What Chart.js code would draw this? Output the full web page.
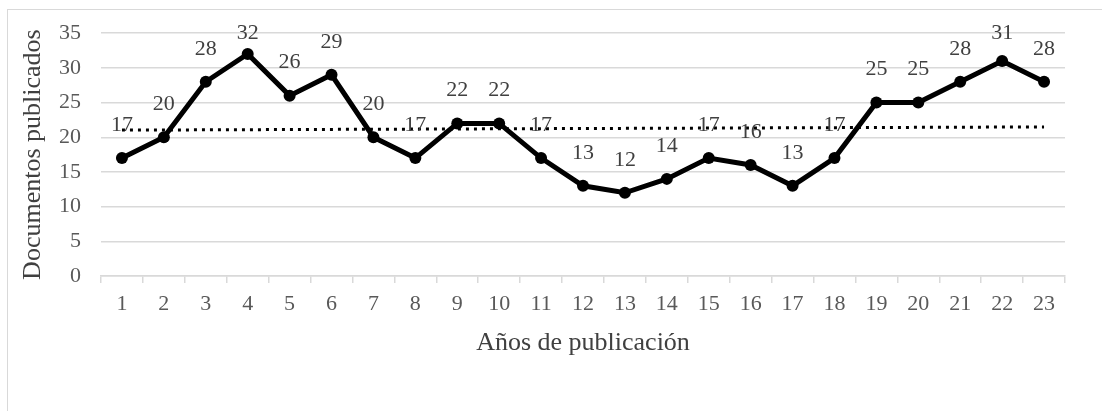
<!DOCTYPE html>
<html>
<head>
<meta charset="utf-8">
<script src="https://cdn.jsdelivr.net/npm/chart.js@4.4.0/dist/chart.umd.min.js"></script>
<style>
    html, body { margin: 0; padding: 0; background: #fff; overflow: hidden; }
    #frame { position: absolute; left: 7px; top: 9px; width: 1200px; height: 500px; border: 1px solid #d9d9d9; }
    #wrap { position: absolute; left: 0; top: 0; width: 1102px; height: 411px; }
</style>
</head>
<body>
<div id="frame"></div>
<div id="wrap"><canvas id="docsChart"></canvas></div>
<script>
// ============ DATA ============
const years = ['1','2','3','4','5','6','7','8','9','10','11','12','13','14','15','16','17','18','19','20','21','22','23'];
const docs = [17, 20, 28, 32, 26, 29, 20, 17, 22, 22, 17, 13, 12, 14, 17, 16, 13, 17, 25, 25, 28, 31, 28];
// linear trend, first and last year
const trendEnds = [21.03, 21.49];
const yTicks = [0, 5, 10, 15, 20, 25, 30, 35];

const serif = 'Liberation Serif';

// labels above each point, kept inside the plot like Excel does
const pointLabels = {
    id: 'pointLabels',
    afterDatasetsDraw(chart) {
        const meta = chart.getDatasetMeta(0);
        const ctx = chart.ctx;
        ctx.save();
        ctx.font = '22px "' + serif + '"';
        ctx.fillStyle = '#404040';
        ctx.textAlign = 'center';
        ctx.textBaseline = 'middle';
        meta.data.forEach((pt, i) => {
            const y = Math.max(pt.y - 33, chart.chartArea.top + 0);
            ctx.fillText(String(docs[i]), pt.x, y);
        });
        ctx.restore();
    }
};

let docsChart;

function renderDocsChart() {
    const ctx = document.getElementById('docsChart');
    if (docsChart) docsChart.destroy();
    docsChart = new Chart(ctx, {
        type: 'line',
        data: {
            labels: years,
            datasets: [
                {
                    label: 'Documentos',
                    data: docs,
                    borderColor: '#000',
                    backgroundColor: '#000',
                    borderWidth: 5,
                    tension: 0,
                    pointRadius: 6,
                    pointBackgroundColor: '#000',
                    pointBorderColor: '#000',
                    pointBorderWidth: 0,
                    order: 1,
                },
                {
                    label: 'Tendencia',
                    data: [{ x: years[0], y: trendEnds[0] }, { x: years[years.length - 1], y: trendEnds[1] }],
                    borderColor: '#000',
                    borderWidth: 3,
                    borderDash: [3, 5],
                    pointRadius: 0,
                    fill: false,
                    order: 2,
                }
            ]
        },
        options: {
            responsive: true,
            maintainAspectRatio: false,
            animation: false,
            layout: { padding: { left: 14, right: 37, top: 24, bottom: 48 } },
            plugins: {
                legend: { display: false },
                tooltip: { enabled: false }
            },
            scales: {
                x: {
                    offset: true,
                    grid: { offset: true, drawOnChartArea: false, drawTicks: true, tickLength: 7, color: '#d9d9d9', lineWidth: 1.5 },
                    border: { display: true, color: '#d9d9d9', width: 1.5 },
                    ticks: { padding: 8, color: '#595959', maxRotation: 0, autoSkip: false, font: { family: serif, size: 22 } },
                    title: { display: true, text: 'Años de publicación', color: '#404040', padding: { top: 4, bottom: 4 }, font: { family: serif, size: 26 } },
                    afterFit(scale) { scale.height = 87; }
                },
                y: {
                    min: 0,
                    max: 35,
                    afterBuildTicks(scale) { scale.ticks = yTicks.map(v => ({ value: v })); },
                    grid: { color: '#d9d9d9', lineWidth: 1.5, drawTicks: false },
                    border: { display: false },
                    ticks: { padding: 20, color: '#595959', font: { family: serif, size: 22 } },
                    title: { display: true, text: 'Documentos publicados', color: '#404040', padding: { top: 4, bottom: 4 }, font: { family: serif, size: 26 } },
                    afterFit(scale) { scale.width = 87; }
                }
            }
        },
        plugins: [pointLabels]
    });
}

renderDocsChart();
</script>
</body>
</html>
